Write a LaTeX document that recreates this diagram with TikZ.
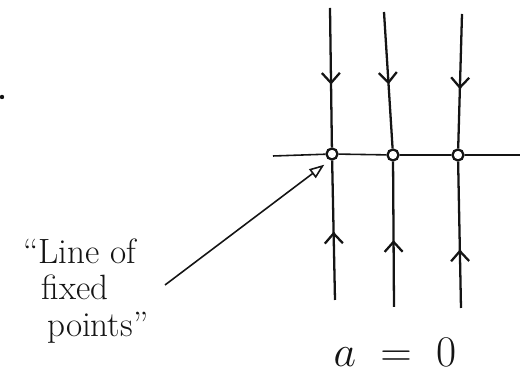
\documentclass[tikz,border=0pt]{standalone}
\usepackage{tikz}
\usetikzlibrary{
    arrows.meta,
    decorations.markings,
    positioning
}
\definecolor{ink}{RGB}{20,20,20}
\tikzset{
    line cap=round,
    line join=round,
    flowline/.style={
        draw=ink,
        line width=1.3pt
    },
    downflow/.style={
        flowline,
        postaction={decorate},
        decoration={markings,
            mark=at position #1 with {\arrow{Straight Barb[length=2mm, width=3.6mm, line width=1.3pt]}}}
    },
    upflow/.style={downflow=#1},
    axisline/.style={
        draw=ink,
        line width=0.9pt
    },
    fixedpt/.style={
        circle,
        draw=ink,
        line width=1.3pt,
        inner sep=0pt,
        minimum size=2.2mm
    },
    pointer/.style={
        -{Triangle[open, length=3mm, width=2.2mm]},
        draw=ink,
        line width=0.9pt
    },
    handnote/.style={
        font=\fontsize{20}{21}\selectfont,
        text=ink,
        align=left,
        inner sep=0pt
    }
}

\begin{document}
\begin{tikzpicture}[x=0.02cm, y=-0.02cm]

    \useasboundingbox (0,0) rectangle (522,377);

    % Fixed points on the horizontal axis
    \node[fixedpt] (fp1) at (332,154) {};
    \node[fixedpt] (fp2) at (393,155) {};
    \node[fixedpt] (fp3) at (458,155) {};

    \coordinate (axisL) at (273,156);
    \coordinate (axisR) at (520,155);
    \draw[axisline] (axisL) -- (fp1) -- (fp2) -- (fp3) -- (axisR);

    % Line ends
    \coordinate (top1) at (330,8);
    \coordinate (top2) at (384,12);
    \coordinate (top3) at (462,14);
    \coordinate (bot1) at (335,300);
    \coordinate (bot2) at (394,307);
    \coordinate (bot3) at (461,308);

    % Flow towards the line
    \draw[downflow=0.55] (top1) -- (fp1);
    \draw[downflow=0.53] (top2) -- (fp2);
    \draw[downflow=0.56] (top3) -- (fp3);
    \draw[upflow=0.49] (bot1) -- (fp1);
    \draw[upflow=0.46] (bot2) -- (fp2);
    \draw[upflow=0.40] (bot3) -- (fp3);

    % Labels
    \node[handnote, anchor=north west] (note) at (38,238)
        {\llap{``}Line of\\\hspace*{2pt}fixed\\\hspace*{5pt}points''};
    \coordinate (notetip) at (165,285);
    \draw[pointer] (notetip) -- ([shift={(-3,6)}]fp1.south west);

    \node[font=\fontsize{24}{24}\selectfont, text=ink] (param) at (395,352) {$a\;=\;0$};

    \fill[ink] (2,97) circle (2.2) node (speck) {};

\end{tikzpicture}
\end{document}
